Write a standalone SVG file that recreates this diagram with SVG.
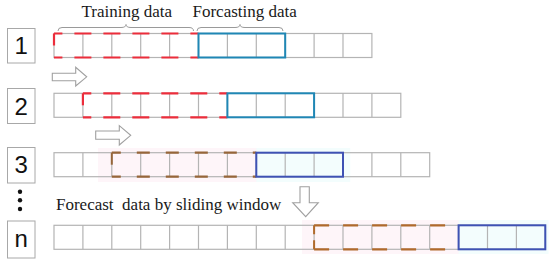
<svg xmlns="http://www.w3.org/2000/svg" width="550" height="262" viewBox="0 0 550 262">
<style>
.cell{fill:none;stroke:#b4b4b4;stroke-width:1.2}
.lbl{fill:#fff;stroke:#a8a8a8;stroke-width:1}
.num{font-family:'Liberation Sans',Arial,sans-serif;font-size:24px;fill:#111;text-anchor:middle}
.cap{font-family:'Liberation Serif','Times New Roman','DejaVu Serif',serif;font-size:17px;fill:#1a1a1a}
.red{fill:none;stroke:#ec2d3b;stroke-width:2.2;stroke-dasharray:17 12;stroke-dashoffset:8.6}
.brn{fill:none;stroke:#96663a;stroke-width:2.2;stroke-dasharray:13 16;stroke-dashoffset:4}
.brn2{fill:none;stroke:#b06a2c;stroke-width:2.2;stroke-dasharray:15 14;stroke-dashoffset:0}
.blu1{fill:none;stroke:#1f87b5;stroke-width:2}
.blu2{fill:none;stroke:#3e52b4;stroke-width:2}
.arr{fill:#fff;stroke:#a0a0a0;stroke-width:1.1}
.brace{fill:none;stroke:#9a9a9a;stroke-width:1}
</style>

<g id="header">
  <text class="cap" x="81.5" y="17">Training data</text>
  <text class="cap" x="192.5" y="17">Forcasting data</text>
  <path class="brace" d="M58,31 Q58,27.5 62,27.5 L121,27.5 Q126,27.5 126,24.5 Q126,27.5 131,27.5 L189,27.5 Q193.5,27.5 193.5,31"/>
  <path class="brace" d="M197,31 Q197,27.5 201,27.5 L235,27.5 Q240,27.5 240,24.5 Q240,27.5 245,27.5 L279,27.5 Q283,27.5 283,31"/>
</g>

<g id="row1">
  <rect class="lbl" x="7.5" y="28.5" width="27.5" height="34.5"/>
  <text class="num" x="21.3" y="53.5">1</text>
  <rect class="cell" x="54" y="33.5" width="317.9" height="24"/>
  <path class="cell" d="M82.9,33.5v24M111.8,33.5v24M140.7,33.5v24M169.6,33.5v24M198.5,33.5v24M227.4,33.5v24M256.3,33.5v24M285.2,33.5v24M314.1,33.5v24M343,33.5v24"/>
  <path class="red" d="M54,33.5H198.5M54,57.5H198.5"/>
  <path d="M54,33.5v12" stroke="#ec2d3b" stroke-width="2.2"/>
  <rect class="blu1" x="198.5" y="33.5" width="86.7" height="24"/>
</g>

<g id="row2">
  <rect class="lbl" x="7.5" y="88.5" width="27.5" height="35"/>
  <text class="num" x="21.3" y="114.5">2</text>
  <rect class="cell" x="54" y="93.3" width="346.8" height="24"/>
  <path class="cell" d="M82.9,93.3v24M111.8,93.3v24M140.7,93.3v24M169.6,93.3v24M198.5,93.3v24M227.4,93.3v24M256.3,93.3v24M285.2,93.3v24M314.1,93.3v24M343,93.3v24M371.9,93.3v24"/>
  <path class="red" d="M82.9,93.3H227.4M82.9,117.3H227.4"/>
  <path d="M82.9,93.3v12" stroke="#ec2d3b" stroke-width="2.2"/>
  <rect class="blu1" x="227.4" y="93.3" width="86.7" height="24"/>
</g>

<g id="row3">
  <rect x="98" y="148" width="160" height="34" fill="#fef5f9"/>
  <rect x="256.3" y="148" width="94" height="34" fill="#f3fdfd"/>
  <rect class="lbl" x="7.5" y="147.5" width="27.5" height="35.5"/>
  <text class="num" x="21.3" y="173">3</text>
  <rect class="cell" x="54" y="152.7" width="375.7" height="24"/>
  <path class="cell" d="M82.9,152.7v24M111.8,152.7v24M140.7,152.7v24M169.6,152.7v24M198.5,152.7v24M227.4,152.7v24M256.3,152.7v24M285.2,152.7v24M314.1,152.7v24M343,152.7v24M371.9,152.7v24M400.8,152.7v24"/>
  <path class="brn" d="M111.8,152.7H256.3M111.8,176.7H256.3"/>
  <path d="M111.8,152.7v12" stroke="#96663a" stroke-width="2"/>
  <rect class="blu2" x="256.3" y="152.7" width="86.7" height="24"/>
</g>

<g id="dots">
  <circle cx="20" cy="191.7" r="2.2" fill="#111"/>
  <circle cx="20" cy="200.2" r="2.2" fill="#111"/>
  <circle cx="20" cy="209" r="2.2" fill="#111"/>
</g>

<g id="caption">
  <text class="cap" x="56" y="210" xml:space="preserve">Forecast  data by sliding window</text>
</g>

<g id="rowN">
  <rect x="302" y="220" width="158" height="34" fill="#fef5f9"/>
  <rect x="458.6" y="220" width="90" height="34" fill="#f3fdfd"/>
  <rect class="lbl" x="7.5" y="221" width="27.5" height="37"/>
  <text class="num" x="21.3" y="247">n</text>
  <rect class="cell" x="54" y="225.3" width="491.3" height="24"/>
  <path class="cell" d="M82.9,225.3v24M111.8,225.3v24M140.7,225.3v24M169.6,225.3v24M198.5,225.3v24M227.4,225.3v24M256.3,225.3v24M285.2,225.3v24M314.1,225.3v24M343,225.3v24M371.9,225.3v24M400.8,225.3v24M429.7,225.3v24M458.6,225.3v24M487.5,225.3v24M516.4,225.3v24"/>
  <path class="brn2" d="M314.1,225.3H458.6M314.1,249.3H458.6"/>
  <path d="M314.1,225.3v24" stroke="#b06a2c" stroke-width="2" stroke-dasharray="9 6"/>
  <rect class="blu2" x="458.6" y="225.3" width="86.7" height="24"/>
</g>

<g id="connectors">
  <path class="arr" d="M52.3,73.3H75.7V67.3L86.7,76.8L75.7,86V80.7H52.3Z"/>
  <path class="arr" d="M95.7,131H119.3V125.7L130.7,135.3L119.3,145V139.3H95.7Z"/>
  <path class="arr" d="M300,186.7H309.3V202.7H318.3L305.7,216.7L292.7,202.7H300Z"/>
</g>
</svg>
